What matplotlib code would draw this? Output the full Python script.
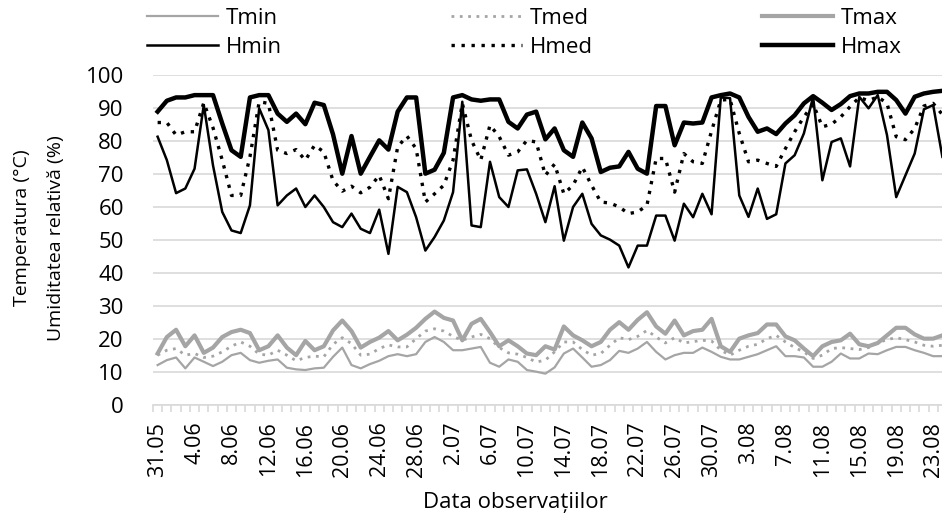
import matplotlib
import matplotlib.pyplot as plt
import numpy as np

matplotlib.use("Agg")
plt.rcParams["font.family"] = ["Open Sans", "DejaVu Sans"]

# daily values, 31.05 -> 24.08
tmin = [12.1, 13.6, 14.4, 11.1, 14.4, 13.1, 11.8, 13.1, 15.1, 15.8,
        13.6, 12.8, 13.4, 13.8, 11.3, 10.8, 10.6, 11.1, 11.3, 14.6,
        17.4, 12.1, 11.1, 12.4, 13.4, 14.8, 15.4, 14.8, 15.4, 19.1,
        20.6, 19.1, 16.6, 16.6, 17.1, 17.6, 12.8, 11.6, 13.8, 13.1,
        10.6, 10.1, 9.5, 11.4, 15.6, 17.1, 14.4, 11.6, 12.1, 13.6,
        16.4, 15.8, 17.1, 19.1, 16.1, 13.8, 15.1, 15.8, 15.8, 17.4,
        16.1, 14.6, 13.8, 13.8, 14.6, 15.4, 16.6, 17.8, 14.8, 14.8,
        14.4, 11.6, 11.6, 13.1, 15.6, 14.1, 14.1, 15.6, 15.4, 16.6,
        17.6, 17.6, 16.6, 15.8, 14.8, 14.8]
tmed = [15.1, 16.6, 17.1, 15.1, 15.6, 14.4, 14.8, 16.1, 17.8, 19.1,
        17.8, 15.4, 15.1, 16.6, 15.1, 13.4, 14.4, 14.8, 14.6, 18.4,
        20.4, 18.6, 15.1, 15.4, 17.1, 18.2, 17.6, 17.6, 20.1, 22.4,
        23.1, 22.4, 20.8, 19.6, 20.6, 21.4, 20.1, 17.4, 15.8, 15.4,
        14.4, 13.0, 13.6, 16.1, 19.1, 19.1, 16.8, 15.1, 15.6, 18.1,
        20.4, 19.8, 20.8, 22.6, 20.6, 18.8, 20.4, 18.8, 19.2, 19.6,
        19.4, 16.6, 15.1, 16.6, 17.8, 18.4, 20.1, 21.1, 19.1, 17.4,
        16.1, 14.1, 15.1, 17.1, 17.4, 17.1, 16.8, 17.4, 18.8, 19.8,
        20.4, 19.8, 19.1, 18.1, 17.8, 18.1]
tmax = [15.6, 20.6, 22.8, 17.8, 21.1, 15.8, 17.4, 20.6, 22.1, 22.8,
        21.8, 16.6, 17.8, 21.1, 17.4, 15.1, 19.4, 16.6, 17.8, 22.6,
        25.6, 22.4, 17.4, 19.1, 20.4, 22.4, 19.6, 21.3, 23.4, 26.1,
        28.3, 26.4, 25.6, 19.6, 24.6, 26.1, 22.1, 17.8, 19.6, 17.8,
        15.6, 15.1, 17.8, 16.8, 23.8, 21.1, 19.6, 17.8, 19.1, 22.8,
        25.1, 22.8, 25.8, 28.1, 23.8, 21.6, 25.6, 21.1, 22.4, 22.8,
        26.1, 17.8, 16.1, 20.1, 21.1, 21.8, 24.4, 24.4, 20.8, 19.6,
        17.1, 14.8, 17.8, 19.1, 19.6, 21.6, 18.4, 17.8, 18.8, 21.1,
        23.4, 23.4, 21.4, 20.1, 20.1, 21.1]
hmin = [81.3, 74.2, 64.2, 65.6, 71.6, 90.9, 72.6, 58.5, 52.9, 52.1,
        60.5, 89.9, 83.3, 60.5, 63.5, 65.6, 60.0, 63.5, 60.0, 55.4,
        53.9, 58.0, 53.4, 52.1, 59.2, 45.8, 66.1, 64.5, 56.9, 46.8,
        50.9, 55.9, 64.5, 91.9, 54.4, 53.9, 73.7, 63.0, 60.0, 71.1,
        71.4, 64.0, 55.4, 66.3, 49.8, 60.0, 64.0, 54.9, 51.4, 50.1,
        48.3, 41.7, 48.3, 48.3, 57.4, 57.4, 49.8, 61.0, 56.9, 64.0,
        57.8, 93.2, 93.0, 63.5, 57.0, 65.6, 56.4, 57.8, 73.2, 75.7,
        82.3, 93.4, 68.1, 79.7, 80.8, 72.3, 93.4, 89.9, 93.9, 81.8,
        63.0, 69.6, 76.2, 89.6, 90.9, 75.2]
hmed = [85.6, 85.6, 81.8, 82.8, 82.8, 91.6, 84.0, 74.2, 63.5, 63.5,
        75.2, 91.9, 91.4, 77.2, 76.2, 77.4, 74.2, 78.7, 76.7, 68.0,
        64.8, 66.3, 64.3, 66.0, 69.6, 62.5, 78.2, 81.5, 77.7, 61.5,
        64.0, 66.6, 74.2, 91.4, 80.2, 74.2, 84.8, 81.3, 75.7, 76.7,
        80.2, 79.7, 69.6, 73.0, 64.0, 66.6, 72.1, 66.6, 61.5, 61.2,
        60.0, 58.0, 58.5, 60.5, 74.7, 74.7, 64.5, 76.2, 73.7, 73.2,
        83.0, 92.4, 92.6, 82.3, 73.7, 74.2, 73.2, 72.3, 77.7, 82.8,
        87.3, 91.2, 84.3, 85.1, 87.3, 90.4, 93.2, 92.2, 93.4, 91.4,
        81.3, 80.4, 83.8, 90.6, 91.4, 88.0]
hmax = [88.9, 92.2, 93.2, 93.2, 93.9, 93.9, 93.9, 85.3, 77.2, 75.2,
        93.2, 93.9, 93.9, 88.3, 85.8, 88.3, 85.1, 91.6, 90.9, 82.0,
        70.1, 81.5, 70.1, 75.2, 80.2, 77.4, 88.9, 93.2, 93.2, 70.1,
        71.3, 76.4, 93.2, 93.9, 92.6, 92.2, 92.6, 92.6, 85.8, 83.8,
        88.0, 88.9, 80.5, 83.8, 77.2, 75.2, 85.6, 80.8, 70.6, 71.9,
        72.3, 76.7, 71.6, 70.1, 90.6, 90.6, 78.7, 85.6, 85.3, 85.6,
        93.2, 93.9, 94.4, 93.2, 87.3, 82.8, 83.8, 82.1, 85.3, 87.8,
        91.4, 93.6, 91.6, 89.4, 91.2, 93.6, 94.4, 94.4, 94.9, 94.9,
        92.4, 88.3, 93.4, 94.4, 94.9, 95.2]

tick_labels = ["31.05", "4.06", "8.06", "12.06", "16.06", "20.06", "24.06",
               "28.06", "2.07", "6.07", "10.07", "14.07", "18.07", "22.07",
               "26.07", "30.07", "3.08", "7.08", "11.08", "15.08", "19.08",
               "23.08"]

GRAY = "#A5A5A5"
GRID = "#D9D9D9"
W, H = 942, 514
x = np.arange(len(tmin))

fig = plt.figure(figsize=(W / 100, H / 100), dpi=100)
ax = fig.add_axes([153 / W, 109 / H, 794 / W, 330 / H])

l_tmin, = ax.plot(x, tmin, color=GRAY, lw=1.6, label="Tmin")
l_tmed, = ax.plot(x, tmed, color=GRAY, lw=2.0, ls=(0, (1, 2)), label="Tmed")
l_tmax, = ax.plot(x, tmax, color=GRAY, lw=3.0, label="Tmax")
l_hmin, = ax.plot(x, hmin, color="black", lw=1.8, label="Hmin")
l_hmed, = ax.plot(x, hmed, color="black", lw=2.4, ls=(0, (1, 2)), label="Hmed")
l_hmax, = ax.plot(x, hmax, color="black", lw=3.2, label="Hmax")

ax.set_xlim(-0.5, len(x) - 0.5)
ax.set_ylim(0, 100)
ax.set_yticks(np.arange(0, 101, 10))
ax.yaxis.grid(True, color=GRID, lw=1.2)
ax.set_axisbelow(True)
for s in ["top", "right", "left"]:
    ax.spines[s].set_visible(False)
ax.spines["bottom"].set_color(GRID)
ax.spines["bottom"].set_linewidth(1.2)

ax.set_xticks(np.arange(0, len(x), 4))
ax.set_xticklabels(tick_labels, rotation=90, fontsize=15.5)
ax.set_xticks(np.arange(-0.5, len(x), 1), minor=True)
ax.tick_params(axis="x", which="major", length=0, pad=12)
ax.tick_params(axis="x", which="minor", length=5, color=GRID, width=1.2)
ax.tick_params(axis="y", length=0, labelsize=16, pad=21)

# axis titles
fig.text(515 / W, 1 - 508 / H, "Data observațiilor", ha="center",
         va="baseline", fontsize=16)
fig.text(22 / W, 1 - 228 / H, "Temperatura (°C)", rotation=90,
         ha="center", va="center", fontsize=14)
fig.text(56 / W, 1 - 238 / H, "Umiditatea relativă (%)", rotation=90,
         ha="center", va="center", fontsize=14)

fig.legend(handles=[l_tmin, l_hmin, l_tmed, l_hmed, l_tmax, l_hmax],
           loc="upper left", bbox_to_anchor=(147 / W, 1 - 8 / H, 755 / W, 0.0),
           mode="expand", ncol=3, frameon=False, fontsize=16,
           handlelength=3.2, handletextpad=0.35, labelspacing=0.35,
           borderpad=0.0, borderaxespad=0.0)

fig.savefig("out.png", dpi=100)
